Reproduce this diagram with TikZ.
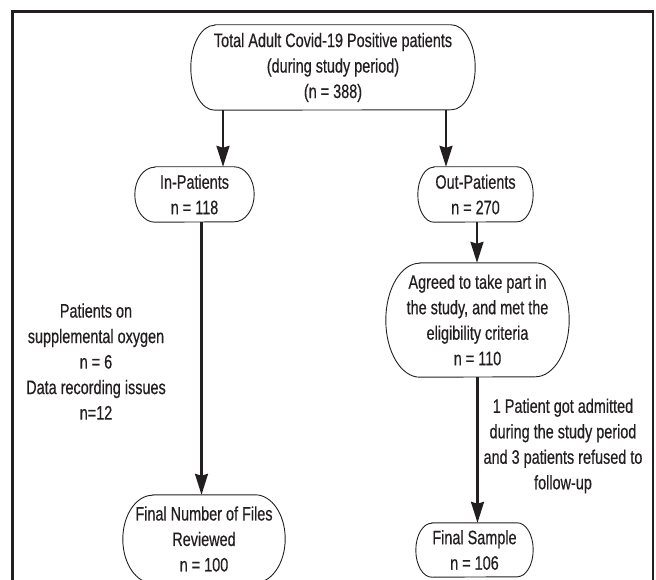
\documentclass[tikz,border=0pt]{standalone}
\usepackage{fontspec}
\setmainfont{Liberation Sans}[FakeStretch=0.74, FakeBold=0.5]
\usetikzlibrary{arrows.meta}
\definecolor{ink}{RGB}{35,31,32}

\begin{document}
\begin{tikzpicture}[x=1pt, y=-1pt,
    box/.style={inner sep=0pt, align=center, text=ink, font=\fontsize{19.5}{25.5}\selectfont},
    note/.style={inner sep=0pt, align=center, text=ink, font=\fontsize{19.5}{25.5}\selectfont},
    flow/.style={-{Stealth[length=21pt, width=13pt, inset=2pt]}, line width=2.2pt, ink},
    rim/.style={line width=0.9pt, ink}]
  \useasboundingbox (0,0) rectangle (656,580);
  \clip (0,0) rectangle (656,580);
  % outer frame (runs off the bottom)
  \draw[line width=2.6pt, ink] (12.5,11.5) rectangle (653,620);

  \node[box, minimum width=284pt, minimum height=85pt] (total) at (333,67.5)
    {Total Adult Covid-19 Positive patients\\(during study period)\\(n = 388)};
  \node[box, minimum width=119pt, minimum height=55pt] (inp) at (194.5,194.5)
    {In-Patients\\n = 118};
  \node[box, minimum width=115pt, minimum height=55pt] (outp) at (475.5,194.5)
    {Out-Patients\\n = 270};
  \node[box, minimum width=183pt, minimum height=114pt] (agree) at (477.5,320)
    {Agreed to take part in\\the study, and met the\\eligibility criteria\\n = 110};
  \node[box, minimum width=162pt, minimum height=88pt] (files) at (204,539)
    {Final Number of Files\\Reviewed\\n = 100};
  \node[box, minimum width=117pt, minimum height=54pt] (final) at (474.5,550)
    {Final Sample\\n = 106};

  % capsule outlines with elliptic ends
  \foreach \nd/\bx/\hy in {total/24/42.5, inp/20/27.5, outp/16/27.5,
      agree/34/57, files/30/44, final/16/27}
    \draw[rim] ([xshift=\bx pt]\nd.north west) -- ([xshift=-\bx pt]\nd.north east)
      arc[start angle=90, end angle=-90, x radius=\bx pt, y radius=\hy pt]
      -- ([xshift=\bx pt]\nd.south west)
      arc[start angle=270, end angle=90, x radius=\bx pt, y radius=\hy pt] -- cycle;

  \node[note] (oxy) at (96,361.5)
    {Patients on\\supplemental oxygen\\n = 6\\Data recording issues\\n=12};
  \node[note] (lost) at (563,446)
    {1 Patient got admitted\\during the study period\\and 3 patients refused to\\follow-up};

  \draw[flow] ([xshift=28.5pt]inp.north |- total.south) -- ([xshift=28.5pt]inp.north);
  \draw[flow] ([xshift=-29.5pt]outp.north |- total.south) -- ([xshift=-29.5pt]outp.north);
  \draw[flow] ([xshift=1.5pt]outp.south) -- ([xshift=1.5pt]outp.south |- agree.north);
  \draw[flow] ([xshift=7pt]inp.south) -- ([xshift=7pt]inp.south |- files.north);
  \draw[flow] (agree.south) -- (agree.south |- final.north);
\end{tikzpicture}
\end{document}
